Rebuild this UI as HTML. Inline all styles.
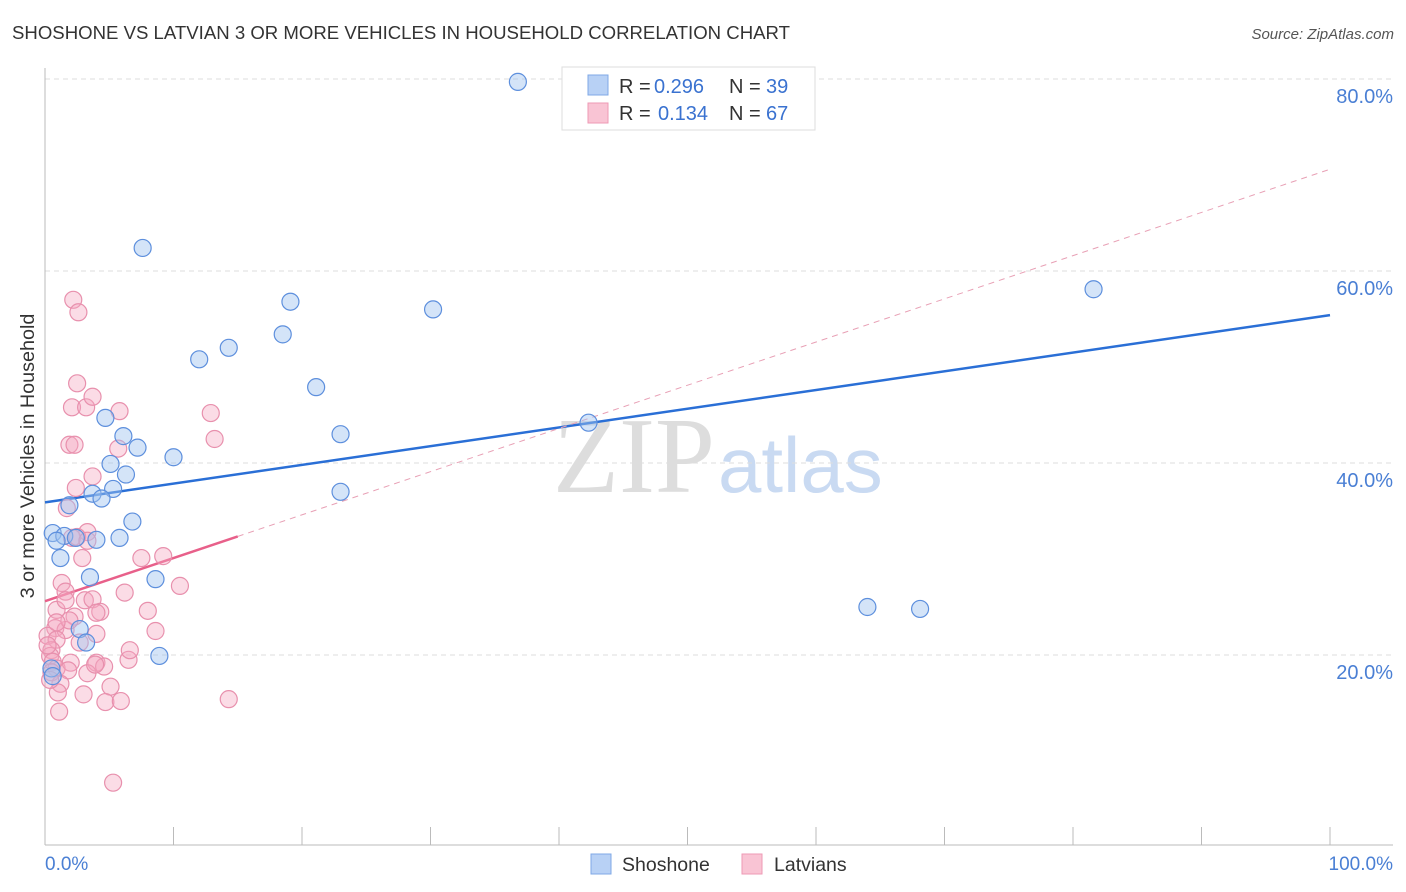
<!DOCTYPE html>
<html><head><meta charset="utf-8"><style>
body{margin:0;background:#fff;font-family:"Liberation Sans",sans-serif}
</style></head><body>
<svg id="c" width="1406" height="892" xmlns="http://www.w3.org/2000/svg" style="display:block">
<text x="12" y="39" font-size="18.6" fill="#333">SHOSHONE VS LATVIAN 3 OR MORE VEHICLES IN HOUSEHOLD CORRELATION CHART</text>
<text x="1394" y="39" font-size="15" fill="#555" font-style="italic" text-anchor="end">Source: ZipAtlas.com</text>
<text transform="translate(34,456) rotate(-90)" font-size="19.8" fill="#333" text-anchor="middle">3 or more Vehicles in Household</text>
<g>
<text x="553" y="492" font-size="108" fill="#ddd" font-family="Liberation Serif,serif">ZIP</text>
<text x="718" y="492" font-size="78" fill="#c9daf2">atlas</text>
</g>
<g id="grid"></g><g id="axes"></g><g id="lines"></g><g id="pts"></g>
<g>
<rect x="562" y="67" width="253" height="63" fill="#fff" stroke="#ddd"/>
<rect x="588" y="75" width="20" height="20" fill="#b8d1f5" stroke="#7fa8e6"/>
<rect x="588" y="103" width="20" height="20" fill="#f9c4d4" stroke="#ee9ab5"/>
<text y="93" font-size="20"><tspan x="619" fill="#333">R = </tspan><tspan x="654" fill="#3a72d0">0.296</tspan><tspan x="729" fill="#333">N = </tspan><tspan x="766" fill="#3a72d0">39</tspan></text>
<text y="120" font-size="20"><tspan x="619" fill="#333">R = </tspan><tspan x="658" fill="#3a72d0">0.134</tspan><tspan x="729" fill="#333">N = </tspan><tspan x="766" fill="#3a72d0">67</tspan></text>
</g>
<g>
<rect x="591" y="854" width="20" height="20" fill="#b8d1f5" stroke="#7fa8e6"/>
<text x="622" y="871" font-size="19.5" fill="#333">Shoshone</text>
<rect x="742" y="854" width="20" height="20" fill="#f9c4d4" stroke="#ee9ab5"/>
<text x="774" y="871" font-size="19.5" fill="#333">Latvians</text>
</g>
</svg>
<script>
const blueX=[36.8,7.6,19.1,30.2,81.6,18.5,14.3,12.0,21.1,4.7,6.1,7.2,23.0,10.0,5.1,6.3,5.3,3.7,4.4,1.9,23.0,6.8,0.6,1.5,2.4,4.0,5.8,0.9,1.2,3.5,8.6,42.3,64.0,68.1,2.7,3.2,8.9,0.5,0.6];
const blueY=[79.7,62.4,56.8,56.0,58.1,53.4,52.0,50.8,47.9,44.7,42.8,41.6,43.0,40.6,39.9,38.8,37.3,36.8,36.3,35.6,37.0,33.9,32.7,32.4,32.2,32.0,32.2,31.9,30.1,28.1,27.9,44.2,25.0,24.8,22.7,21.3,19.9,18.6,17.8];
const pinkX=[2.2,2.6,2.5,2.1,3.2,3.7,5.8,12.9,13.2,1.9,2.3,5.7,3.7,2.4,1.7,3.3,2.1,2.5,3.3,2.9,7.5,9.2,10.5,1.3,1.6,6.2,0.9,3.1,3.7,4.3,4.0,8.0,0.8,2.3,1.6,4.0,8.6,0.2,0.9,2.7,0.5,0.4,0.6,0.9,2.0,4.0,4.6,6.5,6.6,0.5,1.8,3.3,1.2,1.0,3.0,5.1,4.7,5.9,14.3,1.1,5.3,0.4,0.2,1.9,1.6,0.9,3.9];
const pinkY=[57.0,55.7,48.3,45.8,45.8,46.9,45.4,45.2,42.5,41.9,41.9,41.5,38.6,37.4,35.3,32.8,32.2,32.3,31.9,30.1,30.1,30.3,27.2,27.5,26.6,26.5,24.7,25.7,25.8,24.5,24.4,24.6,22.8,24.0,22.6,22.2,22.5,22.0,21.6,21.3,20.5,19.9,19.3,18.6,19.2,19.2,18.8,19.5,20.5,18.2,18.4,18.1,17.0,16.1,15.9,16.7,15.1,15.2,15.4,14.1,6.7,17.4,21.0,23.6,25.7,23.4,19.0];
const yTicks=[20,40,60,80];
const xTickCount=10;
const blueLine=[35.9,55.4];
const pinkLine=[25.6,70.6];
const pinkSolidEnd=15;
const NS="http://www.w3.org/2000/svg";
const sx=v=>45+v*12.85, sy=v=>847-v*9.6;
function mk(t,a,p){const e=document.createElementNS(NS,t);for(const k in a)e.setAttribute(k,a[k]);document.getElementById(p).appendChild(e);return e;}
yTicks.forEach(t=>{
 const l=mk('line',{x1:45,x2:1393,y1:sy(t),y2:sy(t),stroke:'#ddd','stroke-dasharray':'5,4'},'grid');
 
 
 const tx=mk('text',{x:1393,y:sy(t)+24,'font-size':20,fill:'#4a7fd4','text-anchor':'end'},'grid');
 tx.textContent=t.toFixed(1)+'%';
 
 
});
let a=mk('line',{x1:45,x2:45,y1:68,y2:845,stroke:'#bbb'},'axes');


a=mk('line',{x1:45,x2:1393,y1:845,y2:845,stroke:'#bbb'},'axes');


for(let i=0;i<=xTickCount;i++){
 const x=sx(i*100/xTickCount);
 const t=mk('line',{x1:x,x2:x,y1:827,y2:845,stroke:'#bbb'},'axes');
 
 
}
let xl=mk('text',{x:45,y:870,'font-size':19,fill:'#4a7fd4'},'axes');xl.textContent='0.0%';


xl=mk('text',{x:1393,y:870,'font-size':19,fill:'#4a7fd4','text-anchor':'end'},'axes');xl.textContent='100.0%';


let ln=mk('line',{x1:sx(0),y1:sy(blueLine[0]),x2:sx(100),y2:sy(blueLine[1]),stroke:'#2a6fd6','stroke-width':2.5},'lines');


const py=v=>pinkLine[0]+(pinkLine[1]-pinkLine[0])*v/100;
ln=mk('line',{x1:sx(pinkSolidEnd),y1:sy(py(pinkSolidEnd)),x2:sx(100),y2:sy(py(100)),stroke:'#e8a0b5','stroke-width':1,'stroke-dasharray':'6,5'},'lines');


ln=mk('line',{x1:sx(0),y1:sy(py(0)),x2:sx(pinkSolidEnd),y2:sy(py(pinkSolidEnd)),stroke:'#e8608a','stroke-width':2.5},'lines');


pinkX.forEach((x,i)=>{
 const c=mk('circle',{cx:sx(x),cy:sy(pinkY[i]),r:8.5,fill:'rgba(245,168,192,0.4)',stroke:'#e890ad','stroke-width':1.2},'pts');
 
 
});
blueX.forEach((x,i)=>{
 const c=mk('circle',{cx:sx(x),cy:sy(blueY[i]),r:8.5,fill:'rgba(160,196,240,0.45)',stroke:'#5d8fdd','stroke-width':1.2},'pts');
 
 
});
</script>
</body></html>
